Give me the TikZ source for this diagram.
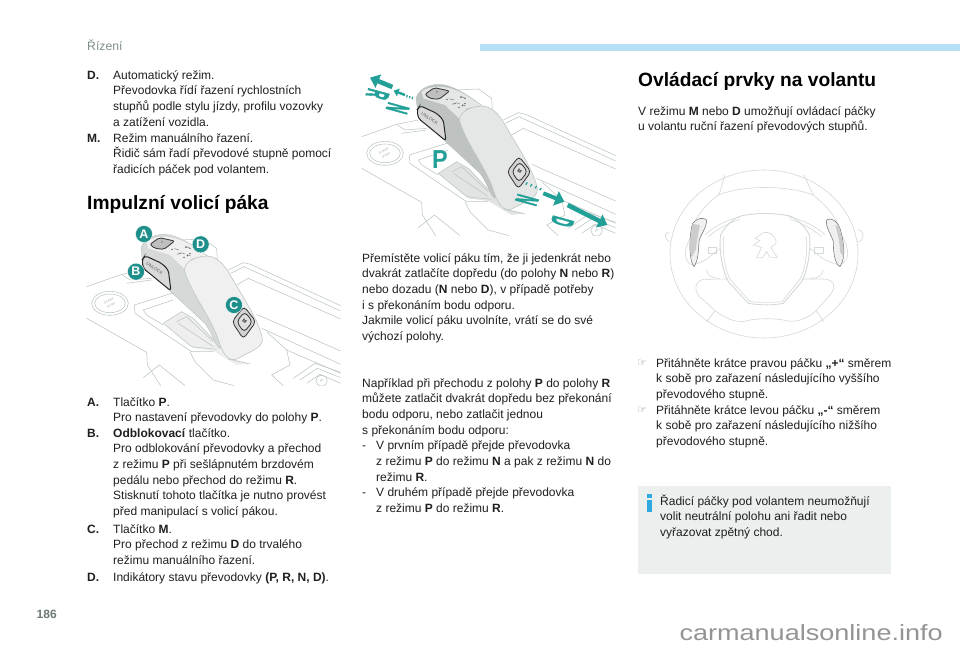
\documentclass[tikz,border=0pt]{standalone}
\usepackage{fontspec}
\setmainfont{Liberation Sans}
\newfontfamily\symfont{DejaVu Sans}
\newfontfamily\gearfont[FakeBold=3]{Liberation Sans Bold}
\usetikzlibrary{arrows.meta,shapes.geometric}
\definecolor{teal1}{HTML}{1F8F8B}
\definecolor{teal2}{HTML}{22A098}
\definecolor{gateline}{HTML}{BCC6C3}
\definecolor{wheelline}{HTML}{D3D9D7}
\definecolor{infobg}{HTML}{EBEFEE}
\definecolor{infoblue}{HTML}{2FA9E0}
\definecolor{barblue}{HTML}{B5E0F5}
\definecolor{headgrey}{HTML}{7F8E8B}
\definecolor{leverone}{HTML}{D6D9D8}
\definecolor{levertwo}{HTML}{BEC2C1}
\tikzset{
  >=latex,
  bodytext/.style={anchor=north west,inner sep=0pt,align=left,text=black!88,font=\fontsize{12}{15.65}\selectfont},
  boldlabel/.style={bodytext,font=\fontsize{12}{15.65}\selectfont\bfseries},
  headtext/.style={anchor=base west,inner sep=0pt,font=\fontsize{19.2}{24}\selectfont\bfseries},
  gate/.style={draw=gateline,line width=.55pt},
  wheel/.style={draw=wheelline,line width=.6pt},
  badge/.style={circle,fill=teal1,draw=white,line width=.4pt,text=white,inner sep=0pt,minimum size=17pt,font=\fontsize{12.5}{13}\selectfont\bfseries},
  gearletter/.style={text=teal2,inner sep=0pt,font=\fontsize{#1}{#1}\selectfont\bfseries},
  gearletter/.default=15,
  floorletter/.style={text=teal2,inner sep=0pt,font=\gearfont\fontsize{15}{15}\selectfont,cm={-.3,-.72,2,-.55,(0,0)}},
  bigarrow/.style={draw=teal2,line width=4.6pt,-{Triangle[length=9pt,width=14pt]}},
  dashbar/.style={draw=teal2,line width=1.2pt}
}
% console and gear lever, coordinates in crop pixels (3 per page unit)
\newcommand{\leverpic}[3]{
  \begin{scope}[shift={#1},x=.3333pt,y=-.3333pt]
    \clip (20,0) rectangle (782,512);
    % console lines
    \draw[gate] (20,215)--(125,178)--(150,195)--(215,190);
    \draw[gate] (125,178)--(190,165);
    \draw[gate] (140,205)--(215,195);
    \draw[gate] (445,165)--(490,143)--(512,148)--(782,272);
    \draw[gate] (452,175)--(492,155)--(782,288);
    \draw[gate] (470,210)--(505,190)--(782,312);
    \draw[gate] (530,298)--(782,408);
    \draw[gate] (545,340)--(782,448);
    \draw[gate] (163,270)--(285,232);
    \draw[gate] (163,270)--(165,295)--(245,350)--(335,410)--(400,410);
    \draw[gate] (190,285)--(200,300)--(250,330);
    \draw[gate] (190,285)--(280,255);
    \draw[gate] (20,310)--(200,412)--(202,450)--(242,512);
    \draw[gate] (190,488)--(238,450)--(315,512);
    \draw[gate] (330,410)--(345,440)--(400,495)--(462,512);
    \draw[gate] (620,405)--(630,450)--(575,480)--(610,512);
    \draw[gate] (560,350)--(620,405)--(782,475);
    \draw[gate] (640,490)--(705,445)--(782,472);
    \draw[gate] (660,495)--(712,460)--(782,488);
    \draw[gate] (680,505)--(720,478)--(782,505);
    \draw[gate] (725,497) ellipse (17 and 17);
    \node[text=gateline,inner sep=0pt,font=\fontsize{4}{4}\selectfont\bfseries] (#2parkP) at (725,497) {P};
    % start button
    \draw[gate] (90,265) ellipse (55 and 36);
    \draw[gate] (90,265) ellipse (46 and 28);
    \node[text=gateline,inner sep=0pt,rotate=25,align=center,font=\fontsize{3.2}{5}\selectfont\bfseries] (#2start) at (90,265) {START\\STOP};
    % panel under the lever
    \fill[#3!45!white] (250,325)--(305,290)--(340,310)--(420,395)--(445,430)--(510,445)--(470,450)--(400,408)--(340,400)--cycle;
    \draw[gate] (250,325)--(305,290)--(340,310)--(420,395);
    \draw[gate] (290,320)--(320,305)--(400,380);
    \draw[gate] (295,325)--(400,395);
    \draw[gate] (250,325)--(335,395)--(410,403);
    \draw[gate] (445,432)--(510,447);
    % arch behind the head
    \draw[gate] (300,75)--(370,72)--(410,100)--(412,135);
    % lever body
    \filldraw[fill=#3,draw=gateline,line width=.5pt] (183,100) .. controls (190,75) and (215,60) .. (250,58)
      .. controls (290,58) and (340,90) .. (385,125) -- (440,190) -- (505,300) -- (420,400)
      .. controls (410,400) and (395,350) .. (375,325) -- (270,228) -- (190,150) -- cycle;
    % top face
    \fill[#3!40!white] (200,80) .. controls (225,60) and (280,55) .. (345,98) -- (380,122) -- (335,130) -- (312,160)
      -- (270,120) -- (205,100) -- cycle;
    % cover
    \filldraw[fill=#3!40!white,draw=gateline,line width=.6pt] (313,165) .. controls (315,140) and (345,125) .. (380,123)
      .. controls (420,125) and (440,160) .. (465,205) .. controls (495,255) and (530,310) .. (545,360)
      .. controls (555,395) and (530,400) .. (470,432) .. controls (445,440) and (430,420) .. (415,375)
      .. controls (395,310) and (330,230) .. (313,165) -- cycle;
    % P button
    \filldraw[fill=gray!50,draw=black!75,line width=.9pt,rounded corners=2pt] (210,88)--(238,68)--(284,78)--(252,103)--(224,100)--cycle;
    \node[text=black!60,inner sep=0pt,rotate=-10,font=\fontsize{3.5}{4}\selectfont] (#2btnP) at (247,84) {P};
    % unlock button
    \filldraw[fill=gray!30,draw=black!85,line width=1pt,rounded corners=3pt] (186,135)--(195,122)--(245,145)--(265,165)--(273,228)--(190,160)--cycle;
    \node[text=black!65,inner sep=0pt,rotate=-33,font=\fontsize{4.5}{5}\selectfont] (#2btnU) at (224,160) {UNLOCK};
    % indicator dots
    \foreach \dx/\dy in {276/103,300/115,294/117,312/127,322/122,330/116,318/97,330/100}
      \fill[black!75] (\dx,\dy) circle (.7pt);
    \foreach \dx/\dy/\dl in {290/103/14,309/115/12,327/121/10,322/96/12}
      \draw[black!55,line width=.45pt] (\dx-\dl/2,\dy-2)--(\dx+\dl/2,\dy+2);
    % M button
    \filldraw[fill=gray!35,draw=black!80,line width=.8pt,rounded corners=4pt] (456,320)--(492,274)--(528,320)--(490,372)--cycle;
    \filldraw[fill=gray!25,draw=black!80,line width=.8pt,rounded corners=4pt] (470,320)--(494,290)--(518,320)--(492,352)--cycle;
    \node[text=black!85,inner sep=0pt,rotate=-35,font=\fontsize{5}{5}\selectfont\bfseries] (#2btnM) at (494,320) {M};
  \end{scope}
}
\begin{document}
\begin{tikzpicture}[x=1pt,y=-1pt]
  \useasboundingbox (0,0) rectangle (960,649);
  \fill[white] (0,0) rectangle (960,649);
  % header
  \node[anchor=base west,inner sep=0pt,text=headgrey,font=\fontsize{12.2}{14}\selectfont] (header) at (87,50.5) {Řízení};
  \fill[barblue] (480,44) rectangle (960,51);
  % first column
  \node[boldlabel] (labD) at (87,68) {\strut D.};
  \node[bodytext] (txtD) at (113,68) {\strut Automatický režim.\\Převodovka řídí řazení rychlostních\\stupňů podle stylu jízdy, profilu vozovky\\a zatížení vozidla.};
  \node[boldlabel] (labM) at (87,131) {\strut M.};
  \node[bodytext] (txtM) at (113,131) {\strut Režim manuálního řazení.\\Řidič sám řadí převodové stupně pomocí\\řadicích páček pod volantem.};
  \node[headtext] (headA) at (87,209) {Impulzní volicí páka};
  \leverpic{(80,215)}{a}{leverone}
  \begin{scope}[shift={(80,215)},x=.3333pt,y=-.3333pt]
    \node[badge] (bA) at (192,57) {A};
    \node[badge] (bB) at (168,170) {B};
    \node[badge] (bC) at (462,270) {C};
    \node[badge] (bD) at (362,88) {D};
  \end{scope}
  \node[boldlabel] (labA) at (87,395) {\strut A.};
  \node[bodytext] (txtA) at (113,395) {\strut Tlačítko \textbf{P}.\\Pro nastavení převodovky do polohy \textbf{P}.};
  \node[boldlabel] (labB) at (87,426) {\strut B.};
  \node[bodytext] (txtB) at (113,426) {\strut \textbf{Odblokovací} tlačítko.\\Pro odblokování převodovky a přechod\\z režimu \textbf{P} při sešlápnutém brzdovém\\pedálu nebo přechod do režimu \textbf{R}.\\Stisknutí tohoto tlačítka je nutno provést\\před manipulací s volicí pákou.};
  \node[boldlabel] (labC) at (87,522) {\strut C.};
  \node[bodytext] (txtC) at (113,522) {\strut Tlačítko \textbf{M}.\\Pro přechod z režimu \textbf{D} do trvalého\\režimu manuálního řazení.};
  \node[boldlabel] (labI) at (87,570) {\strut D.};
  \node[bodytext] (txtI) at (113,570) {\strut Indikátory stavu převodovky \textbf{(P, R, N, D)}.};
  % second column
  \leverpic{(355,65)}{b}{levertwo}
  \begin{scope}[shift={(355,65)},x=.3333pt,y=-.3333pt]
    \coordinate (rs) at (112,66); \coordinate (re) at (45,38);
    \draw[bigarrow] (rs)--(re);
    \coordinate (ns) at (150,90); \coordinate (ne) at (116,77);
    \draw[draw=teal2,line width=2.4pt,-{Triangle[length=5pt,width=8pt]}] (ns)--(ne);
    \foreach \bx in {0,8,16}
      \draw[dashbar] (157+\bx,90+\bx*.35)--(155+\bx,97+\bx*.35);
    \node[floorletter] (gR) at (68,88) {R};
    \node[floorletter] (gN) at (128,130) {N};
    \node[gearletter=26,xscale=.9] (gP) at (255,283) {P};
    \foreach \bx in {0,14,28,42}
      \draw[dashbar] (517+\bx,352+\bx*.4)--(512+\bx,359+\bx*.4);
    \coordinate (ms) at (565,385); \coordinate (me) at (628,410);
    \draw[draw=teal2,line width=4pt,-{Triangle[length=9pt,width=15pt]}] (ms)--(me);
    \node[floorletter] (gN2) at (516,405) {N};
    \coordinate (ds) at (638,420); \coordinate (de) at (757,480);
    \draw[bigarrow] (ds)--(de);
    \node[floorletter] (gD) at (622,470) {D};
  \end{scope}
  \node[bodytext] (txtMove) at (362,251) {\strut Přemístěte volicí páku tím, že ji jedenkrát nebo\\dvakrát zatlačíte dopředu (do polohy \textbf{N} nebo \textbf{R})\\nebo dozadu (\textbf{N} nebo \textbf{D}), v případě potřeby\\i s překonáním bodu odporu.\\Jakmile volicí páku uvolníte, vrátí se do své\\výchozí polohy.};
  \node[bodytext] (txtEx) at (362,376) {\strut Například při přechodu z polohy \textbf{P} do polohy \textbf{R}\\můžete zatlačit dvakrát dopředu bez překonání\\bodu odporu, nebo zatlačit jednou\\s překonáním bodu odporu:\\-\hspace{10pt}V prvním případě přejde převodovka\\\hspace{14pt}z režimu \textbf{P} do režimu \textbf{N} a pak z režimu \textbf{N} do\\\hspace{14pt}režimu \textbf{R}.\\-\hspace{10pt}V druhém případě přejde převodovka\\\hspace{14pt}z režimu \textbf{P} do režimu \textbf{R}.};
  % third column
  \node[headtext] (headB) at (638,86) {Ovládací prvky na volantu};
  \node[bodytext] (txtV) at (638,104) {\strut V režimu \textbf{M} nebo \textbf{D} umožňují ovládací páčky\\u volantu ruční řazení převodových stupňů.};
  % steering wheel
  \begin{scope}[shift={(650,170)},x=.3333pt,y=-.3333pt]
    \draw[wheel] (342,252) ellipse (282 and 252);
    \draw[wheel] (60,190) .. controls (42,180) and (40,210) .. (60,215);
    \draw[wheel] (624,180) .. controls (645,180) and (645,215) .. (622,215);
    % upper rim
    \draw[wheel] (225,15) .. controls (215,40) and (215,60) .. (205,75)
      .. controls (160,110) and (140,140) .. (125,175);
    \draw[wheel] (460,15) .. controls (475,40) and (480,55) .. (490,75)
      .. controls (525,105) and (550,130) .. (565,165);
    \draw[wheel] (205,75) .. controls (280,45) and (410,45) .. (490,75);
    % spokes
    \draw[wheel] (165,195) .. controls (190,170) and (230,150) .. (272,140);
    \draw[wheel] (175,200) .. controls (200,180) and (230,160) .. (270,148);
    \draw[wheel] (525,195) .. controls (500,170) and (460,150) .. (415,140);
    \draw[wheel] (515,200) .. controls (490,180) and (460,160) .. (420,148);
    % hub
    \draw[wheel,line width=.9pt] (272,138) .. controls (320,128) and (370,128) .. (420,138)
      .. controls (440,145) and (470,175) .. (478,195) .. controls (485,240) and (470,310) .. (455,335)
      -- (400,400) .. controls (370,406) and (330,406) .. (295,400) -- (235,335)
      .. controls (220,310) and (205,240) .. (212,195) .. controls (220,175) and (250,145) .. (272,138) -- cycle;
    \draw[wheel] (222,198) .. controls (215,240) and (225,305) .. (242,330) -- (300,395)
      .. controls (330,398) and (365,398) .. (396,395) -- (448,330) .. controls (465,305) and (475,240) .. (468,198);
    % side clusters
    \draw[wheel] (125,195) .. controls (100,240) and (100,270) .. (125,285) .. controls (150,280) and (170,270) .. (185,255) -- (210,235);
    \draw[wheel] (575,195) .. controls (600,240) and (600,270) .. (570,285) .. controls (545,280) and (520,270) .. (505,255) -- (480,235);
    \draw[wheel] (175,232) rectangle (198,250);
    \draw[wheel] (492,232) rectangle (520,250);
    \draw[wheel] (170,300) .. controls (175,315) and (180,325) .. (210,325);
    \draw[wheel] (520,300) .. controls (515,315) and (510,325) .. (480,325);
    % lower rim
    \draw[wheel] (235,327) -- (160,328) .. controls (130,335) and (130,370) .. (160,390)
      -- (195,422) .. controls (240,455) and (270,460) .. (300,450) .. controls (330,445) and (370,445) .. (400,450)
      .. controls (430,460) and (470,450) .. (498,422) -- (540,375) .. controls (565,345) and (545,327) .. (520,327) -- (455,327);
    \draw[wheel] (195,422)--(170,455);
    \draw[wheel] (498,422)--(522,455);
    % lion
    \draw[wheel] (340,188) .. controls (355,183) and (375,195) .. (378,212) .. controls (380,225) and (370,225) .. (362,232)
      -- (370,245) -- (382,262) -- (360,262) -- (350,245) -- (338,262) -- (320,262) -- (335,232)
      -- (310,225) -- (330,212) -- (315,205) -- (340,188);
    % paddles
    \filldraw[fill=gray!12,draw=black!50,line width=.6pt] (128,160) .. controls (140,145) and (160,140) .. (170,150)
      .. controls (170,175) and (150,195) .. (147,215) .. controls (145,245) and (145,270) .. (132,290)
      .. controls (115,270) and (118,190) .. (128,160) -- cycle;
    \fill[gray!40] (128,162) .. controls (120,195) and (118,240) .. (125,262) -- (137,240) .. controls (140,215) and (145,190) .. (150,165) -- cycle;
    \filldraw[fill=gray!12,draw=black!50,line width=.6pt] (530,150) .. controls (540,142) and (560,150) .. (570,175)
      .. controls (580,210) and (590,260) .. (570,290) .. controls (552,280) and (550,240) .. (550,215)
      .. controls (545,195) and (525,170) .. (530,150) -- cycle;
    \fill[gray!40] (556,165) .. controls (562,190) and (570,215) .. (570,245) -- (580,260) .. controls (582,230) and (575,195) .. (566,170) -- cycle;
  \end{scope}
  % bullets
  \node[anchor=base west,inner sep=0pt,text=black!45,font=\symfont\fontsize{11}{12}\selectfont] (bull1) at (637,366) {☞};
  \node[bodytext] (txtPlus) at (656,356) {\strut Přitáhněte krátce pravou páčku \textbf{„+“} směrem\\k sobě pro zařazení následujícího vyššího\\převodového stupně.};
  \node[anchor=base west,inner sep=0pt,text=black!45,font=\symfont\fontsize{11}{12}\selectfont] (bull2) at (637,413) {☞};
  \node[bodytext] (txtMinus) at (656,403) {\strut Přitáhněte krátce levou páčku \textbf{„-“} směrem\\k sobě pro zařazení následujícího nižšího\\převodového stupně.};
  % info box
  \fill[infobg] (638,486) rectangle (891,574);
  \fill[infoblue] (647,494) rectangle (652,498);
  \fill[infoblue] (647,499.5) rectangle (652,512);
  \node[bodytext] (txtInfo) at (660,494) {\strut Řadicí páčky pod volantem neumožňují\\volit neutrální polohu ani řadit nebo\\vyřazovat zpětný chod.};
  % footer
  \node[anchor=base west,inner sep=0pt,text=headgrey!85!black,font=\fontsize{12}{13}\selectfont\bfseries] (pageno) at (36.5,618) {186};
  \node[anchor=base east,inner sep=0pt,text=black!42,xscale=1.23,font=\fontsize{22}{24}\selectfont] (mark) at (943,640.5) {carmanualsonline.info};
\end{tikzpicture}
\end{document}
